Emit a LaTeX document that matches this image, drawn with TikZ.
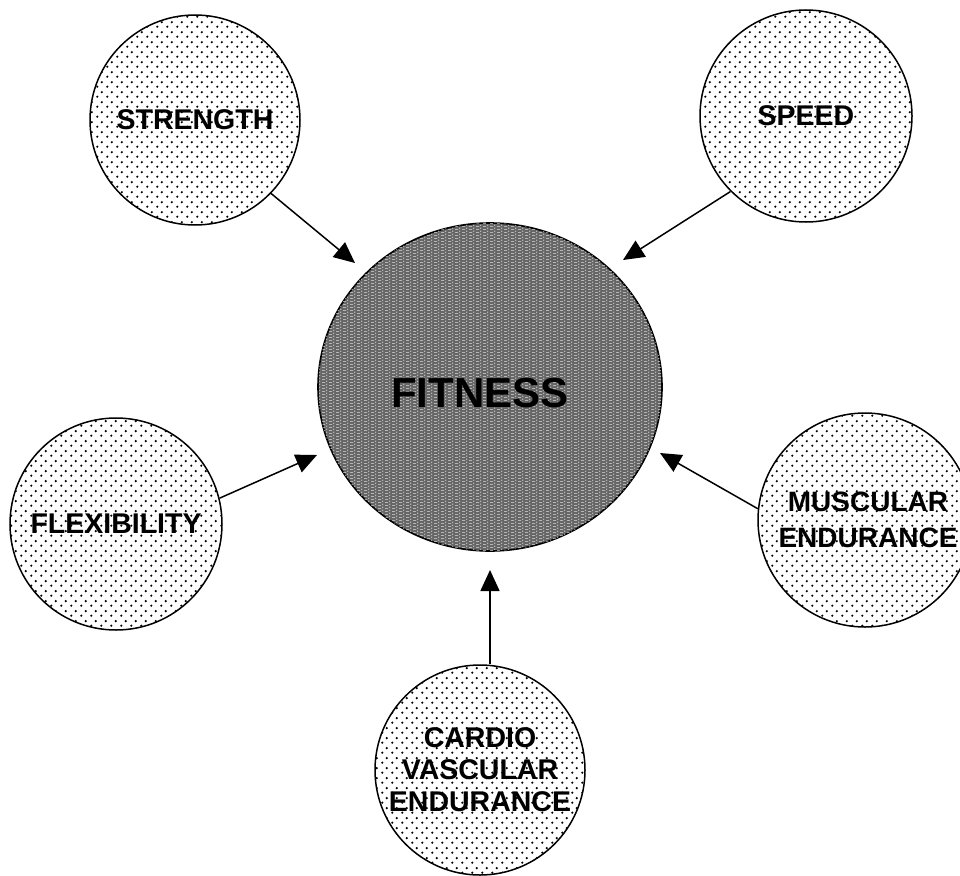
\documentclass[tikz,border=0pt]{standalone}
\usepackage{fontspec}
\setmainfont{Liberation Sans}
\usetikzlibrary{arrows.meta,shapes.geometric,patterns,patterns.meta}
\tikzdeclarepattern{
  name=sdots,
  type=uncolored,
  tile size={(9.5pt,9.5pt)},
  bounding box={(0pt,0pt) and (9.5pt,9.5pt)},
  code={\pgfpathcircle{\pgfpoint{2.375pt}{2.375pt}}{1.3pt}\pgfpathcircle{\pgfpoint{7.125pt}{7.125pt}}{1.3pt}\pgfusepath{fill}}
}
\tikzdeclarepattern{
  name=grain,
  type=uncolored,
  tile size={(7pt,3pt)},
  bounding box={(0pt,0pt) and (7pt,3pt)},
  code={\pgfpathrectangle{\pgfpoint{0pt}{0pt}}{\pgfpoint{3.5pt}{0.9pt}}\pgfpathrectangle{\pgfpoint{5pt}{1.5pt}}{\pgfpoint{0.9pt}{1.5pt}}\pgfusepath{fill}}
}
\tikzset{
  small/.style={circle, draw=black, line width=1.5pt, pattern=sdots, pattern color=black,
    minimum size=#1, inner sep=0pt, align=center, font=\bfseries\fontsize{28.5}{33}\selectfont},
  big/.style={ellipse, draw=black, line width=1.6pt, fill=black!60,
    postaction={pattern=grain, pattern color=white!88!black},
    minimum width=344pt, minimum height=328pt, inner sep=0pt},
  lbl/.style={font=\bfseries\fontsize{28.5}{33}\selectfont, align=center, inner sep=0pt},
  arr/.style={line width=1.5pt, -{Triangle[length=21pt,width=19pt]}}
}
\begin{document}
\begin{tikzpicture}[x=1pt,y=-1pt]
\useasboundingbox (0,0) rectangle (960,875);
\node[big, label={[font=\bfseries\fontsize{42}{46}\selectfont, inner sep=0pt, xshift=-10pt, yshift=-6pt]center:FITNESS}] (fit) at (490,387) {};
\node[small=210pt] (str) at (195,120) {STRENGTH};
\node[small=212pt] (spd) at (806,116) {SPEED};
\node[small=212pt] (flx) at (116,524) {FLEXIBILITY};
\node[small=214pt, label={[lbl, xshift=3pt, font=\bfseries\fontsize{28}{36}\selectfont]center:MUSCULAR\\ENDURANCE}] (mus) at (865,520) {};
\node[small=210pt, font=\bfseries\fontsize{28.5}{32}\selectfont] (car) at (480,770) {CARDIO\\VASCULAR\\ENDURANCE};
\coordinate (tS) at (355,263);
\coordinate (tSp) at (623,260);
\coordinate (tF) at (317,455);
\coordinate (tM) at (660,453);
\coordinate (tC) at (490,570);
\draw[arr] (str.-44) -- (tS);
\draw[arr] (spd.-135) -- (tSp);
\draw[arr] (flx.14) -- (tF);
\draw[arr] (mus.174) -- (tM);
\draw[arr] (car.north -| tC) -- (tC);
\end{tikzpicture}
\end{document}
